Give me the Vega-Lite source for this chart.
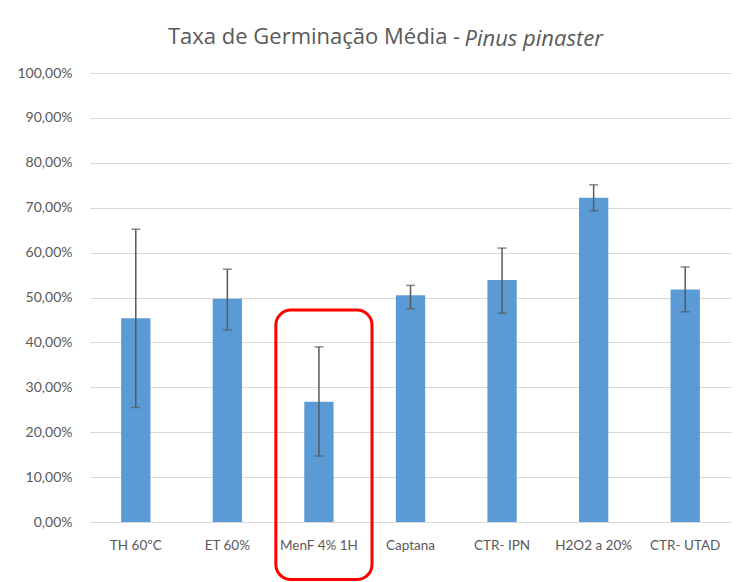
{
  "$schema": "https://vega.github.io/schema/vega-lite/v6.json",
  "autosize": {"type": "none"},
  "width": 641,
  "height": 449,
  "padding": {"left": 90, "top": 73, "right": 21, "bottom": 60},
  "background": "white",
  "config": {
    "locale": {"number": {"decimal": ",", "thousands": ".", "grouping": [3], "currency": ["", " €"]}},
    "font": "Lato",
    "view": {"stroke": null}
  },
  "title": {
    "text": "Taxa de Germinação Média -",
    "anchor": "start",
    "frame": "group",
    "dx": 78,
    "offset": -39,
    "baseline": "alphabetic",
    "font": "Open Sans",
    "fontSize": 22,
    "fontWeight": "normal",
    "color": "#595959"
  },
  "data": {
    "values": [
      {"Tratamento": "TH 60ºC", "media": 0.454, "inf": 0.255, "sup": 0.652},
      {"Tratamento": "ET 60%", "media": 0.497, "inf": 0.428, "sup": 0.563},
      {"Tratamento": "MenF 4% 1H", "media": 0.268, "inf": 0.147, "sup": 0.390},
      {"Tratamento": "Captana", "media": 0.505, "inf": 0.475, "sup": 0.527},
      {"Tratamento": "CTR- IPN", "media": 0.539, "inf": 0.465, "sup": 0.610},
      {"Tratamento": "H2O2 a 20%", "media": 0.722, "inf": 0.693, "sup": 0.751},
      {"Tratamento": "CTR- UTAD", "media": 0.518, "inf": 0.468, "sup": 0.568}
    ]
  },
  "encoding": {
    "x": {
      "field": "Tratamento",
      "type": "nominal",
      "sort": null,
      "scale": {"paddingInner": 0, "paddingOuter": 0},
      "axis": {
        "title": null,
        "labelAngle": 0,
        "labelFont": "Lato",
        "labelFontSize": 13.5,
        "labelColor": "#595959",
        "labelPadding": 16,
        "ticks": false,
        "domainColor": "#d9d9d9",
        "domainWidth": 1
      }
    }
  },
  "layer": [
    {
      "mark": {"type": "bar", "color": "#5b9bd5", "width": {"band": 0.32}},
      "encoding": {
        "y": {
          "field": "media",
          "type": "quantitative",
          "scale": {"domain": [0, 1], "nice": false},
          "axis": {
            "title": "Pinus pinaster",
            "titleAngle": 0,
            "titleAlign": "left",
            "titleBaseline": "alphabetic",
            "titleX": 374,
            "titleY": -28,
            "titleFont": "Open Sans",
            "titleFontSize": 22,
            "titleFontStyle": "italic",
            "titleFontWeight": "normal",
            "titleColor": "#595959",
            "values": [0, 0.1, 0.2, 0.3, 0.4, 0.5, 0.6, 0.7, 0.8, 0.9, 1],
            "format": ".2%",
            "labelFont": "Lato",
            "labelFontSize": 14,
            "labelColor": "#595959",
            "labelPadding": 18,
            "ticks": false,
            "domain": false,
            "gridColor": "#d9d9d9",
            "gridWidth": 1
          }
        }
      }
    },
    {
      "mark": {"type": "rule", "color": "#595959", "strokeWidth": 1.5},
      "encoding": {
        "y": {"field": "inf", "type": "quantitative"},
        "y2": {"field": "sup"}
      }
    },
    {
      "mark": {"type": "tick", "color": "#595959", "size": 9, "thickness": 1.5},
      "encoding": {"y": {"field": "inf", "type": "quantitative"}}
    },
    {
      "mark": {"type": "tick", "color": "#595959", "size": 9, "thickness": 1.5},
      "encoding": {"y": {"field": "sup", "type": "quantitative"}}
    },
    {
      "data": {"values": [{"Tratamento": "MenF 4% 1H", "topo": 0.472, "base": -0.128}]},
      "mark": {"type": "bar", "fill": null, "fillOpacity": 0, "stroke": "#ff0000", "strokeWidth": 3, "cornerRadius": 15, "xOffset": 5, "width": {"band": 1.05}},
      "encoding": {
        "y": {"field": "topo", "type": "quantitative"},
        "y2": {"field": "base"}
      }
    }
  ]
}
